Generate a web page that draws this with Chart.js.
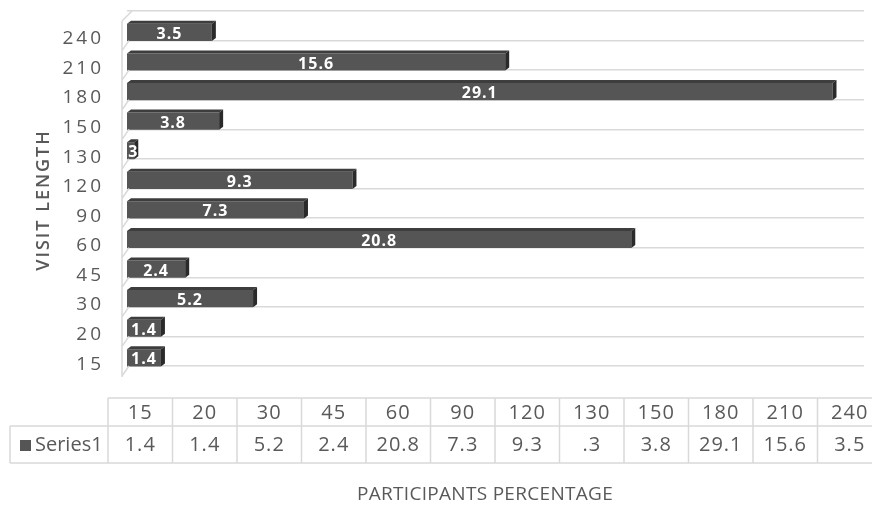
<!DOCTYPE html>
<html>
<head>
<meta charset="utf-8">
<style>
  html, body { margin: 0; padding: 0; background: #fff; }
</style>
<script src="https://cdn.jsdelivr.net/npm/chart.js@4.4.1/dist/chart.umd.min.js"></script>
</head>
<body>
<canvas id="chart" width="872" height="506"></canvas>
<script>
// data, bottom category first (15 sits at the bottom of the chart)
const visitLengths = ["15", "20", "30", "45", "60", "90", "120", "130", "150", "180", "210", "240"];
const participantPct = [1.4, 1.4, 5.2, 2.4, 20.8, 7.3, 9.3, 0.3, 3.8, 29.1, 15.6, 3.5];
const pctLabels = ["1.4", "1.4", "5.2", "2.4", "20.8", "7.3", "9.3", ".3", "3.8", "29.1", "15.6", "3.5"];
const seriesName = "Series1";
const xTitle = "PARTICIPANTS PERCENTAGE";
const yTitle = "VISIT LENGTH";

const GRID = "#d9d9d9";
const TEXT = "#595959";
const BAR = "#555555";
const BAR_SHIFT = 6.6; // excel puts the 3d bars on the lower edge of the band
const DEPTH = 4;

// data table under the plot
const table = { legendX: 10, x0: 108, colW: 64.5, top: 398, mid: 426, bottom: 463 };

const excel3d = {
  id: "excel3d",
  beforeDatasetsDraw(chart) {
    chart.ctx.save();
    chart.ctx.translate(0, BAR_SHIFT);
  },
  afterDatasetsDraw(chart) {
    const ctx = chart.ctx;
    const meta = chart.getDatasetMeta(0);
    meta.data.forEach((bar, i) => {
      const top = bar.y - bar.height / 2;
      const bottom = bar.y + bar.height / 2;
      const left = bar.base;
      const right = bar.x;
      // top face
      ctx.fillStyle = "#3d3d3d";
      ctx.beginPath();
      ctx.moveTo(left, top);
      ctx.lineTo(left + DEPTH, top - 3);
      ctx.lineTo(right + DEPTH, top - 3);
      ctx.lineTo(right, top);
      ctx.closePath();
      ctx.fill();
      // side face
      ctx.fillStyle = "#2a2a2a";
      ctx.beginPath();
      ctx.moveTo(right, top);
      ctx.lineTo(right + DEPTH, top - 3);
      ctx.lineTo(right + DEPTH, bottom - 3);
      ctx.lineTo(right, bottom);
      ctx.closePath();
      ctx.fill();
      // value label
      ctx.fillStyle = "#ffffff";
      ctx.font = 'bold 16px "Open Sans"';
      ctx.textAlign = "center";
      ctx.textBaseline = "middle";
      ctx.letterSpacing = "1px";
      ctx.fillText(pctLabels[i], (left + right) / 2, bar.y + 2);
    });
    ctx.restore();
    // y tick labels are drawn after this (ticks.z = 1), spaced like the original
    ctx.letterSpacing = "3px";
  },
  afterDraw(chart) {
    const ctx = chart.ctx;
    const area = chart.chartArea;
    const yScale = chart.scales.y;
    ctx.save();
    ctx.letterSpacing = "0px";

    // left wall of the 3d plot
    ctx.strokeStyle = GRID;
    ctx.lineWidth = 1.5;
    ctx.beginPath();
    ctx.moveTo(area.left - 5, area.top + 10);
    ctx.lineTo(area.left - 5, area.bottom + 11);
    const band = yScale.height / visitLengths.length;
    for (let i = 0; i <= visitLengths.length; i++) {
      const y = i === visitLengths.length ? area.bottom
        : yScale.getPixelForValue(i) + band / 2;
      ctx.moveTo(area.left - 5, y + 10);
      ctx.lineTo(area.left + 2, y);
    }
    ctx.moveTo(area.left - 5, area.top + 10);
    ctx.lineTo(area.left + 5, area.top);
    ctx.stroke();

    // data table
    const n = visitLengths.length;
    const right = table.x0 + n * table.colW;
    ctx.beginPath();
    ctx.moveTo(table.x0, table.top);
    ctx.lineTo(right, table.top);
    ctx.moveTo(table.legendX, table.mid);
    ctx.lineTo(right, table.mid);
    ctx.moveTo(table.legendX, table.bottom);
    ctx.lineTo(right, table.bottom);
    ctx.moveTo(table.legendX, table.mid);
    ctx.lineTo(table.legendX, table.bottom);
    for (let i = 0; i <= n; i++) {
      const x = table.x0 + i * table.colW;
      ctx.moveTo(x, table.top);
      ctx.lineTo(x, table.bottom);
    }
    ctx.stroke();

    ctx.fillStyle = TEXT;
    ctx.font = '20px "Open Sans"';
    ctx.textAlign = "center";
    ctx.textBaseline = "middle";
    ctx.letterSpacing = "1px";
    visitLengths.forEach((v, i) => {
      const cx = table.x0 + (i + 0.5) * table.colW;
      ctx.fillText(v, cx, (table.top + table.mid) / 2 + 1);
      ctx.fillText(pctLabels[i], cx, (table.mid + table.bottom) / 2 + 1);
    });

    // legend key
    ctx.fillStyle = BAR;
    ctx.fillRect(20, 440, 11, 11);
    ctx.fillStyle = TEXT;
    ctx.textAlign = "left";
    ctx.letterSpacing = "0px";
    ctx.fillText(seriesName, 35, (table.mid + table.bottom) / 2 + 1);

    // axis titles
    ctx.font = '19px "Open Sans"';
    ctx.textAlign = "center";
    ctx.letterSpacing = "0.3px";
    ctx.fillText(xTitle, 485, 495);
    ctx.translate(44, 200);
    ctx.rotate(-Math.PI / 2);
    ctx.font = '600 18px "Open Sans"';
    ctx.letterSpacing = "2px";
    ctx.fillText(yTitle, 0, 0);
    ctx.restore();
  }
};

new Chart(document.getElementById("chart"), {
  type: "bar",
  data: {
    labels: visitLengths,
    datasets: [{
      label: seriesName,
      data: participantPct,
      backgroundColor: BAR,
      borderWidth: 0,
      barPercentage: 0.58,
      categoryPercentage: 1
    }]
  },
  options: {
    indexAxis: "y",
    responsive: false,
    animation: false,
    layout: { padding: { top: 11, right: 8, bottom: 0, left: 0 } },
    plugins: {
      legend: { display: false },
      tooltip: { enabled: false }
    },
    scales: {
      x: {
        min: 0,
        max: 30.4,
        ticks: { display: false },
        grid: { display: false },
        border: { display: false },
        afterFit: (s) => { s.height = 140; }
      },
      y: {
        reverse: true,
        grid: { color: GRID, lineWidth: 1.5, offset: true, drawTicks: false },
        border: { display: false },
        ticks: { color: TEXT, font: { family: "Open Sans", size: 19 }, padding: 23, labelOffset: 13, z: 1 },
        afterFit: (s) => {
          s.width = 127;
          s.paddingTop = 0;
          s.paddingBottom = 0;
        }
      }
    }
  },
  plugins: [excel3d]
});
</script>
</body>
</html>
